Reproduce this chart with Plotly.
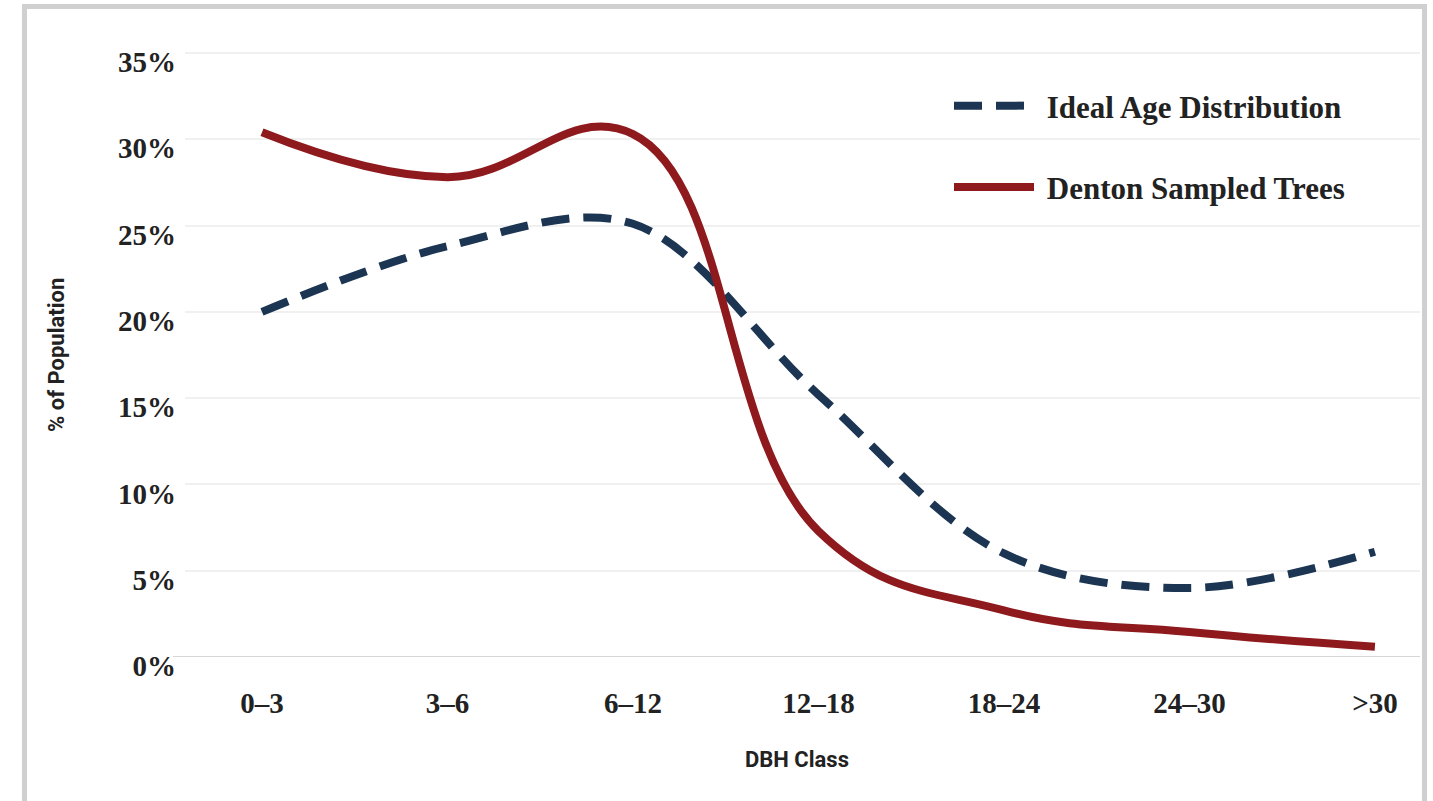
import plotly.graph_objects as go

# ---- data ----
dbh_classes = ["0–3", "3–6", "6–12", "12–18", "18–24", "24–30", ">30"]
ideal_pct = [20.0, 23.8, 25.1, 15.2, 6.0, 4.0, 6.1]
denton_pct = [30.4, 27.8, 30.3, 7.3, 2.7, 1.45, 0.6]
y_ticks = [0, 5, 10, 15, 20, 25, 30, 35]
y_tick_text = [f"{v}%" for v in y_ticks]

# ---- styling ----
W, H = 1433, 801
ML, MR, MT, MB = 185, 13, 40, 144
PW, PH = W - ML - MR, H - MT - MB
SERIF = "Liberation Serif, Times New Roman, serif"
SANS = "Roboto, Arial, sans-serif"
BLUE = "#1b3553"
RED = "#8f1a1d"
TXT = "#222222"
NBSP = "\u00a0"

def px_x(p):
    return (p - ML) / PW

def px_y(p):
    return (H - MB - p) / PH

fig = go.Figure()
fig.add_trace(go.Scatter(
    x=list(range(len(dbh_classes))), y=ideal_pct, mode="lines",
    name=NBSP + "Ideal Age Distribution", legendgroup="a",
    line=dict(color=BLUE, width=8, dash="28px,14px", shape="spline", smoothing=1.0),
))
fig.add_trace(go.Scatter(
    x=list(range(len(dbh_classes))), y=denton_pct, mode="lines",
    name=NBSP + "Denton Sampled Trees", legendgroup="b",
    line=dict(color=RED, width=8, shape="spline", smoothing=1.2),
))

fig.update_layout(
    width=W, height=H,
    margin=dict(l=ML, r=MR, t=MT, b=MB),
    paper_bgcolor="white", plot_bgcolor="white",
    showlegend=True,
    legend=dict(
        x=px_x(949), y=px_y(79), xanchor="left", yanchor="top",
        bgcolor="rgba(0,0,0,0)", traceorder="grouped", tracegroupgap=38,
        itemwidth=80,
        font=dict(family=SERIF, size=31, color=TXT, weight="bold"),
    ),
    xaxis=dict(
        range=[-0.415, 6.243],
        tickmode="array", tickvals=list(range(len(dbh_classes))), ticktext=dbh_classes,
        showgrid=False, zeroline=False, showline=False,
        ticks="", ticklabelstandoff=26,
        tickfont=dict(family=SERIF, size=29, color=TXT, weight="bold"),
    ),
    yaxis=dict(
        range=[0, 35.75],
        tickmode="array", tickvals=y_ticks, ticktext=y_tick_text,
        showgrid=True, gridcolor="#f0f0f0", gridwidth=2,
        zeroline=False, showline=False,
        ticks="", ticklabelstandoff=8, ticklabelshift=9,
        tickfont=dict(family=SERIF, size=29, color=TXT, weight="bold"),
    ),
    annotations=[
        dict(text="% of Population", xref="paper", yref="paper",
             x=px_x(56), y=px_y(355), xanchor="center", yanchor="middle",
             showarrow=False, textangle=-90,
             font=dict(family=SANS, size=22, color=TXT, weight="bold")),
        dict(text="DBH Class", xref="paper", yref="paper",
             x=px_x(797), y=px_y(760), xanchor="center", yanchor="middle",
             showarrow=False,
             font=dict(family=SANS, size=22, color=TXT, weight="bold")),
    ],
    shapes=[
        dict(type="rect", xref="paper", yref="paper",
             x0=px_x(24.5), x1=px_x(1424.5), y0=px_y(830), y1=px_y(6.5),
             line=dict(color="#d0d0d0", width=5), fillcolor="rgba(0,0,0,0)",
             layer="below"),
        dict(type="line", xref="paper", yref="y",
             x0=px_x(173), x1=px_x(1420), y0=0, y1=0,
             line=dict(color="#d6d6d6", width=2), layer="below"),
    ],
)

fig.write_html("out.html", config={"displayModeBar": False},
               post_script="document.body.style.margin='0';")
